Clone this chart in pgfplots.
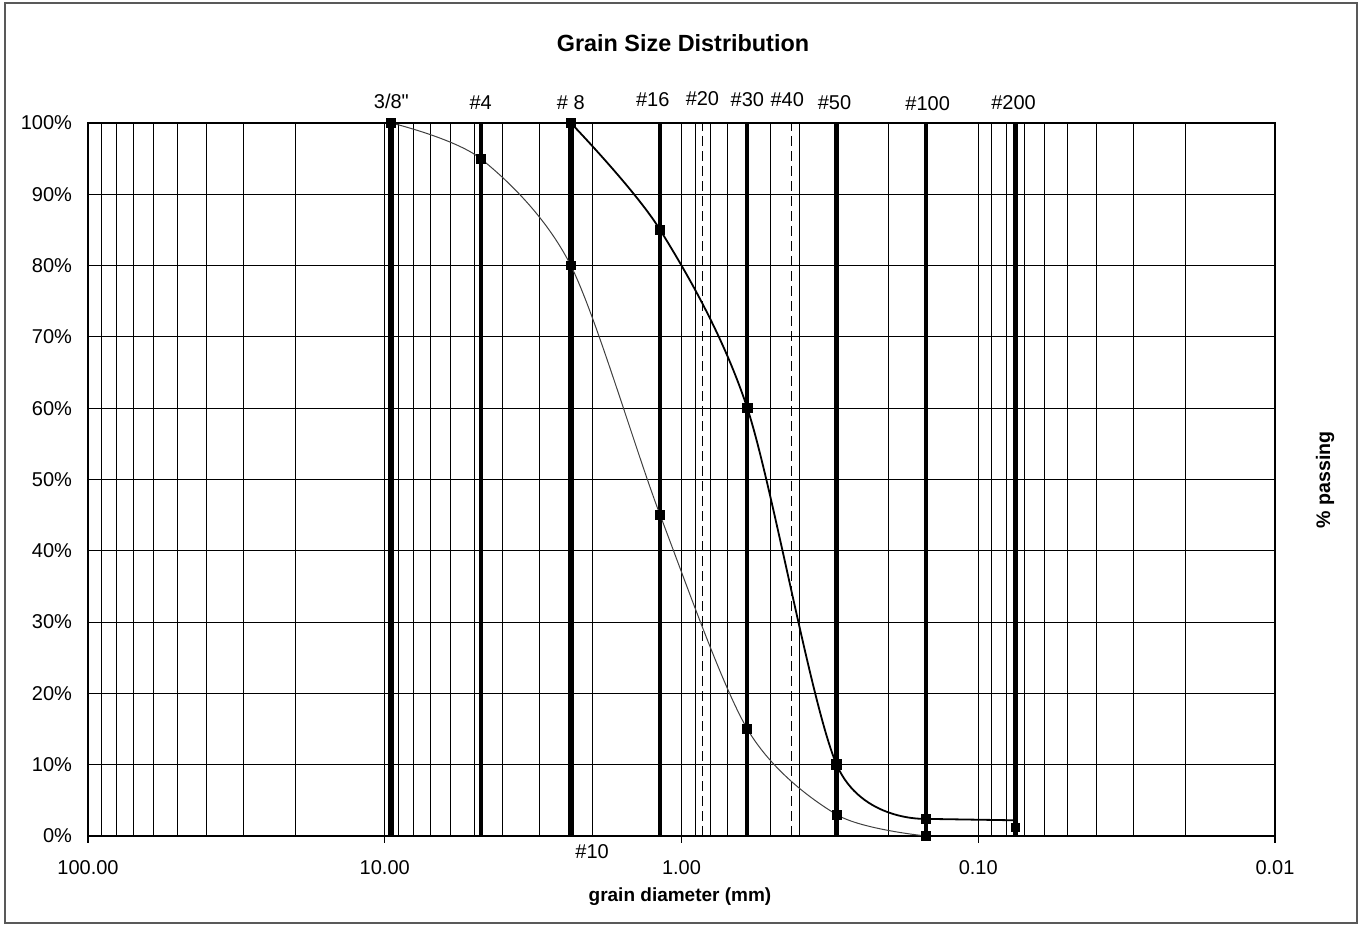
\documentclass[border=0pt]{standalone}
\usepackage{fontspec}
\setmainfont{Liberation Sans}
\usepackage{pgfplots}
\pgfplotsset{compat=1.18}
\begin{document}
\begin{tikzpicture}[x=1pt,y=1pt]
\useasboundingbox (0,0) rectangle (681,463);
\draw[black!65, line width=0.8pt] (2.5,1.5) rectangle (678.5,461.5);
\begin{axis}[
  at={(44pt,45pt)}, anchor=south west,
  scale only axis, width=593.5pt, height=356.5pt,
  xmode=log, x dir=reverse, xmin=0.01, xmax=100,
  ymin=0, ymax=100,
  xtick={100,10,1,0.1,0.01},
  xticklabels={100.00,10.00,1.00,0.10,0.01},
  minor xtick={20,30,40,50,60,70,80,90,2,3,4,5,6,7,8,9,0.2,0.3,0.4,0.5,0.6,0.7,0.8,0.9,0.02,0.03,0.04,0.05,0.06,0.07,0.08,0.09},
  ytick={0,10,20,30,40,50,60,70,80,90,100},
  yticklabels={0\%,10\%,20\%,30\%,40\%,50\%,60\%,70\%,80\%,90\%,100\%},
  xmajorgrids=true, xminorgrids=true, ymajorgrids=true,
  major grid style={black, line width=0.5pt},
  minor grid style={black, line width=0.5pt},
  xtick pos=bottom,
  tick align=outside, major tick length=3.5pt, minor tick length=0pt,
  ytick style={draw=none},
  xtick style={black, line width=0.6pt},
  ticklabel style={font=\fontsize{10}{12}\selectfont},
  xticklabel style={yshift=-5pt},
  yticklabel style={xshift=-1pt},
  axis line style={black, line width=0.6pt},
  clip=false,
]
% sieve lines
\addplot[black, line width=3pt] coordinates {(9.5,0) (9.5,100)};
\addplot[black, line width=2pt] coordinates {(4.75,0) (4.75,100)};
\addplot[black, line width=2.8pt] coordinates {(2.36,0) (2.36,100)};
\addplot[black, line width=2pt] coordinates {(1.18,0) (1.18,100)};
\addplot[black, line width=0.5pt, dash pattern=on 5pt off 2.5pt] coordinates {(0.85,0) (0.85,100)};
\addplot[black, line width=2pt] coordinates {(0.6,0) (0.6,100)};
\addplot[black, line width=0.5pt, dash pattern=on 5pt off 2.5pt] coordinates {(0.425,0) (0.425,100)};
\addplot[black, line width=2.6pt] coordinates {(0.3,0) (0.3,100)};
\addplot[black, line width=2pt] coordinates {(0.15,0) (0.15,100)};
\addplot[black, line width=2.3pt] coordinates {(0.075,0) (0.075,100)};
% sample 1 (thin)
\addplot[black!75, line width=0.5pt, smooth, mark=square*, mark size=2.2pt, mark options={solid, fill=black, draw=black}]
  coordinates {(9.5,100) (4.75,95) (2.36,80) (1.18,45) (0.6,15) (0.3,3) (0.15,0)};
% sample 2 (thick)
\addplot[black, line width=0.9pt, smooth, mark=square*, mark size=2.2pt, mark options={solid, fill=black}]
  coordinates {(2.36,100) (1.18,85) (0.6,60) (0.3,10) (0.15,2.4)};
\addplot[black, line width=0.9pt] coordinates {(0.15,2.4) (0.075,2.2)};
\addplot[only marks, mark=square*, mark size=2.2pt, black] coordinates {(0.075,1.2)};
% sieve labels
\begin{scope}[every node/.style={font=\fontsize{10}{12}\selectfont, inner sep=0pt}]
\node at (axis cs:9.5,100) [yshift=11pt] {3/8\textquotedbl};
\node at (axis cs:4.75,100) [yshift=10pt] {\#4};
\node at (axis cs:2.36,100) [yshift=10pt] {\# 8};
\node at (axis cs:1.25,100) [yshift=11.5pt] {\#16};
\node at (axis cs:0.85,100) [yshift=12pt] {\#20};
\node at (axis cs:0.6,100) [yshift=11.5pt] {\#30};
\node at (axis cs:0.44,100) [yshift=11.5pt] {\#40};
\node at (axis cs:0.305,100) [yshift=10pt] {\#50};
\node at (axis cs:0.148,100) [yshift=9.5pt] {\#100};
\node at (axis cs:0.076,100) [yshift=10pt] {\#200};
\node at (axis cs:2.0,0) [yshift=-8pt] {\#10};
\end{scope}
\end{axis}
\node[font=\bfseries\fontsize{11.7}{14}\selectfont] at (341.5,441.5) {Grain Size Distribution};
\node[font=\bfseries\fontsize{9.5}{12}\selectfont] at (340,14.5) {grain diameter (mm)};
\node[font=\bfseries\fontsize{9.8}{12}\selectfont, rotate=90] at (662.5,223) {\% passing};
\end{tikzpicture}
\end{document}
